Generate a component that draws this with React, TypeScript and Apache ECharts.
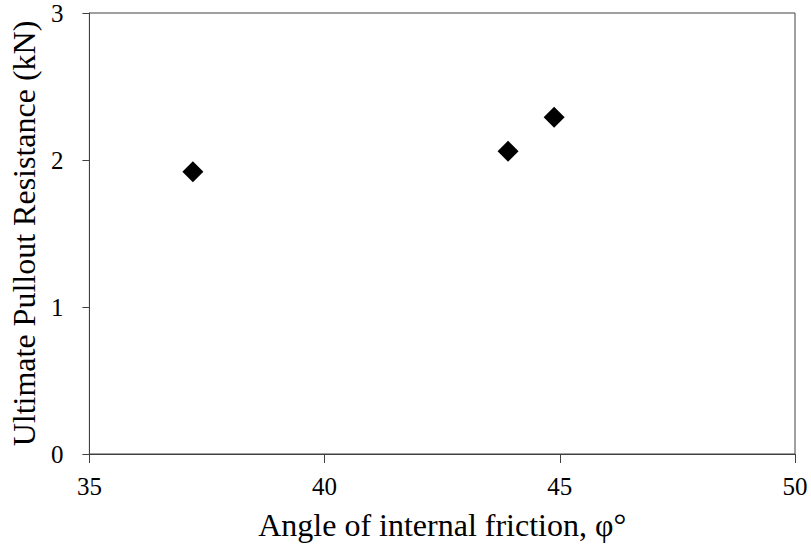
import React, { useEffect, useRef } from "react";
import * as echarts from "echarts";

const frictionAngle = [37.2, 43.9, 44.88];
const pulloutResistance = [1.92, 2.06, 2.29];
const xTicks = [35, 40, 45, 50];
const yTicks = [0, 1, 2, 3];

const FONT = "'Liberation Serif', 'Times New Roman', serif";

export default function App() {
  const ref = useRef<HTMLDivElement>(null);
  useEffect(() => {
    if (!ref.current) return;
    const chart = echarts.init(ref.current, undefined, { renderer: "svg" });
    const data = frictionAngle.map((x, i) => [x, pulloutResistance[i]]);
    chart.setOption({
      animation: false,
      backgroundColor: "#ffffff",
      grid: {
        left: 89,
        right: 16,
        top: 13,
        bottom: 95,
        show: true,
        borderColor: "#404040",
        borderWidth: 1,
      },
      xAxis: {
        type: "value",
        min: xTicks[0],
        max: xTicks[xTicks.length - 1],
        interval: 5,
        name: "Angle of internal friction, φ°",
        nameLocation: "middle",
        nameGap: 55,
        nameTextStyle: { fontFamily: FONT, fontSize: 32, color: "#000" },
        axisLine: { show: true, lineStyle: { color: "#404040", width: 1 } },
        axisTick: { show: true, inside: false, length: 9, lineStyle: { color: "#404040" } },
        axisLabel: { fontFamily: FONT, fontSize: 25, color: "#000", margin: 20 },
        splitLine: { show: false },
      },
      yAxis: {
        type: "value",
        min: yTicks[0],
        max: yTicks[yTicks.length - 1],
        interval: 1,
        name: "Ultimate Pullout Resistance (kN)",
        nameLocation: "middle",
        nameGap: 39,
        nameTextStyle: { fontFamily: FONT, fontSize: 32, color: "#000" },
        axisLine: { show: true, lineStyle: { color: "#404040", width: 1 } },
        axisTick: { show: true, inside: false, length: 7, lineStyle: { color: "#404040" } },
        axisLabel: { fontFamily: FONT, fontSize: 25, color: "#000", margin: 26 },
        splitLine: { show: false },
      },
      series: [
        {
          type: "scatter",
          data,
          symbol: "diamond",
          symbolSize: 21,
          itemStyle: { color: "#000000", opacity: 1 },
        },
      ],
    });
    return () => chart.dispose();
  }, []);
  return (
    <div
      ref={ref}
      style={{ position: "absolute", left: 0, top: 0, width: 811, height: 549 }}
    />
  );
}
